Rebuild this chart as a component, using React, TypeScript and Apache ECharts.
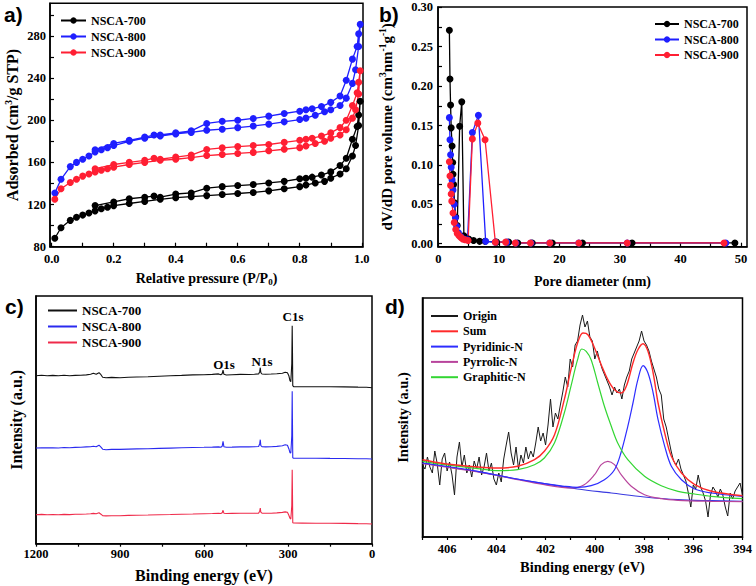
import React, { useEffect, useRef } from 'react';
import * as echarts from 'echarts';

// ---------- Panel a: N2 adsorption/desorption isotherms ----------
const pAds = [0.01, 0.03, 0.06, 0.08, 0.10, 0.12, 0.14, 0.16, 0.18, 0.20, 0.25, 0.30, 0.35, 0.40, 0.45, 0.50, 0.55, 0.60, 0.65, 0.70, 0.75, 0.80, 0.82, 0.85, 0.88, 0.90, 0.93, 0.95, 0.97, 0.98, 0.99, 0.995];
const pDes = [0.99, 0.985, 0.97, 0.95, 0.93, 0.90, 0.87, 0.84, 0.82, 0.80, 0.75, 0.70, 0.65, 0.60, 0.55, 0.50, 0.45, 0.40, 0.35, 0.33, 0.30, 0.25, 0.20, 0.14];
const a700Ads = [88, 98, 105, 108, 110, 112, 114, 116, 117.5, 119, 121, 123, 125, 126.5, 127.5, 128.5, 129.5, 130.5, 131.5, 133, 135, 137, 138.5, 140.5, 142, 145, 149, 154, 166, 176, 195, 218];
const a700Des = [205, 194, 182, 164, 157, 151, 148, 146, 145, 144.5, 142, 140.5, 139, 138, 137, 135.5, 131, 130, 127, 128, 127, 125.5, 122.5, 119];
const a800Ads = [131, 144, 156, 160, 163, 166, 170, 172, 174, 176, 180, 183, 185, 187, 188.5, 190.5, 191.5, 193, 194.5, 196.3, 198.5, 200.7, 202, 204.8, 208, 210, 214, 221, 235, 248, 270, 291];
const a800Des = [282, 270, 258, 238, 223, 217, 213, 211, 210, 208.6, 206.4, 203.9, 201.7, 200, 199, 197, 190, 188, 186, 186, 184, 181, 178, 172];
const a900Ads = [125, 135, 141, 144, 147, 149, 151, 152.5, 154, 155.5, 158, 160, 162, 163, 164.5, 166.5, 167.5, 168.5, 169.5, 171, 172.5, 174, 175.5, 178, 180, 183, 186, 191, 202, 210, 225, 247];
const a900Des = [236, 226, 214, 200, 193, 188, 185, 183, 182, 181, 179, 177, 176, 175, 173.8, 172.3, 167, 165, 163, 164, 162, 160, 158, 154];
const aXTicks = [0, 0.2, 0.4, 0.6, 0.8, 1.0];
const aXMinor = [0, 0.1, 0.2, 0.3, 0.4, 0.5, 0.6, 0.7, 0.8, 0.9, 1.0];
const aYTicks = [80, 120, 160, 200, 240, 280];
const aYMinor = [80, 100, 120, 140, 160, 180, 200, 220, 240, 260, 280, 300];

// ---------- Panel b: pore size distribution ----------
const b700D = [1.8, 1.9, 2.0, 2.1, 2.25, 2.35, 2.4, 2.5, 2.65, 2.85, 3.1, 3.5, 3.85, 4.2, 5.0, 5.8, 6.8, 7.7, 9.6, 11.6, 13.1, 15.5, 18.8, 23.8, 32.0, 49.0];
const b700V = [0.271, 0.209, 0.176, 0.147, 0.124, 0.103, 0.088, 0.075, 0.052, 0.034, 0.023, 0.149, 0.180, 0.010, 0.006, 0.004, 0.003, 0.003, 0.002, 0.002, 0.001, 0.001, 0.001, 0.001, 0.001, 0.001];
const b800D = [1.8, 1.9, 2.0, 2.1, 2.25, 2.4, 2.6, 2.8, 3.0, 3.3, 3.7, 4.2, 4.8, 5.6, 6.6, 7.8, 9.4, 11.3, 12.8, 15.3, 18.4, 23.2, 31.2, 47.5];
const b800V = [0.160, 0.132, 0.113, 0.097, 0.081, 0.068, 0.050, 0.033, 0.022, 0.014, 0.009, 0.006, 0.005, 0.141, 0.163, 0.003, 0.002, 0.002, 0.001, 0.001, 0.001, 0.001, 0.001, 0.001];
const b900D = [1.8, 1.9, 2.0, 2.1, 2.2, 2.4, 2.6, 2.85, 3.1, 3.4, 3.7, 4.0, 4.4, 4.9, 5.6, 6.5, 7.7, 9.4, 11.1, 12.7, 15.2, 18.4, 23.2, 31.2, 47.2];
const b900V = [0.104, 0.086, 0.074, 0.063, 0.054, 0.039, 0.027, 0.018, 0.013, 0.010, 0.008, 0.006, 0.005, 0.004, 0.133, 0.153, 0.132, 0.002, 0.002, 0.001, 0.001, 0.001, 0.001, 0.001, 0.001];
const bXTicks = [0, 10, 20, 30, 40, 50];
const bXMinor = [0, 5, 10, 15, 20, 25, 30, 35, 40, 45, 50];
const bYTicks = [0, 0.05, 0.10, 0.15, 0.20, 0.25, 0.30];
const bYMinor = [0, 0.025, 0.05, 0.075, 0.10, 0.125, 0.15, 0.175, 0.20, 0.225, 0.25, 0.275, 0.30];

// ---------- Panel c: XPS survey ----------
const cEnergy = [1200, 1180, 1160, 1140, 1120, 1100, 1080, 1060, 1040, 1020, 1005, 995, 985, 975, 968, 962, 950, 930, 900, 870, 840, 800, 760, 720, 680, 640, 600, 570, 548, 540, 535, 532, 529, 520, 500, 470, 440, 420, 405, 401, 399, 397, 393, 380, 360, 340, 320, 310, 302, 297, 293, 290, 288, 286.5, 285, 284, 283, 280, 250, 200, 150, 100, 50, 20, 0];
const c700 = [168, 168.5, 168, 168.3, 168, 168.5, 168, 168.3, 168.5, 168.8, 169.5, 170.5, 169.5, 171, 169, 166.5, 166, 166.3, 166, 166.5, 166.7, 167, 167.5, 168, 168.3, 168.8, 169, 169.3, 169.8, 169, 170, 173.5, 169.5, 168.7, 169, 169.3, 169.2, 169.5, 169.8, 172, 176, 171, 169.7, 169.5, 169.7, 170, 170.5, 171.5, 171, 168, 163, 162, 172, 180, 218, 192, 158, 157, 157, 157, 157, 156.8, 156.6, 156.5, 156];
const c800 = [95.7, 96, 95.8, 96, 95.7, 96.2, 96, 96.3, 96.5, 96.8, 97, 97.5, 97, 98.5, 96.5, 94.5, 94, 94.3, 94.3, 94.6, 94.8, 95, 95.3, 95.6, 95.9, 96.2, 96.4, 96.6, 96.8, 96.5, 97.5, 102.4, 97, 96.5, 96.6, 96.8, 96.8, 97, 97.2, 100, 104, 98, 97, 96.8, 97, 97.3, 98, 99, 98.5, 95, 91, 90.7, 100, 108, 152.4, 120, 86, 85.5, 85.5, 85.5, 85.3, 85.2, 85, 85, 84.7];
const c900 = [29, 29.3, 29, 29.2, 29, 29.3, 29.1, 29.4, 29.5, 29.7, 30, 30.3, 30, 31, 29.5, 28, 27.8, 28, 28, 28.3, 28.5, 28.7, 29, 29.2, 29.5, 29.7, 30, 30.2, 30.4, 30.2, 31, 33.4, 30.5, 30.2, 30.3, 30.4, 30.4, 30.5, 30.6, 32.5, 35.7, 31.5, 30.5, 30.4, 30.5, 30.8, 31.3, 31.8, 31.5, 28.5, 25.5, 24.7, 32, 38, 74, 50, 21, 20.7, 20.6, 20.5, 20.4, 20.3, 20.1, 20, 19.7];
const cXTicks = [0, 300, 600, 900, 1200];
const cXMinor = [0, 150, 300, 450, 600, 750, 900, 1050, 1200];
const cPeakLabels = ['O1s', 'N1s', 'C1s'];

// ---------- Panel d: N1s high resolution ----------
const dEnergy = [
  407.0, 406.9, 406.8, 406.7, 406.6, 406.5, 406.4, 406.3, 406.2, 406.1,
  406.0, 405.9, 405.8, 405.7, 405.6, 405.5, 405.4, 405.3, 405.2, 405.1,
  405.0, 404.9, 404.8, 404.7, 404.6, 404.5, 404.4, 404.3, 404.2, 404.1,
  404.0, 403.9, 403.8, 403.7, 403.6, 403.5, 403.4, 403.3, 403.2, 403.1,
  403.0, 402.9, 402.8, 402.7, 402.6, 402.5, 402.4, 402.3, 402.2, 402.1,
  402.0, 401.9, 401.8, 401.7, 401.6, 401.5, 401.4, 401.3, 401.2, 401.1,
  401.0, 400.9, 400.8, 400.7, 400.6, 400.5, 400.4, 400.3, 400.2, 400.1,
  400.0, 399.9, 399.8, 399.7, 399.6, 399.5, 399.4, 399.3, 399.2, 399.1,
  399.0, 398.9, 398.8, 398.7, 398.6, 398.5, 398.4, 398.3, 398.2, 398.1,
  398.0, 397.9, 397.8, 397.7, 397.6, 397.5, 397.4, 397.3, 397.2, 397.1,
  397.0, 396.9, 396.8, 396.7, 396.6, 396.5, 396.4, 396.3, 396.2, 396.1,
  396.0, 395.9, 395.8, 395.7, 395.6, 395.5, 395.4, 395.3, 395.2, 395.1,
  395.0, 394.9, 394.8, 394.7, 394.6, 394.5, 394.4, 394.3, 394.2, 394.1,
  394.0,
];
const dOrigin = [
  72, 68, 80, 70, 64, 86, 73, 52, 78, 84,
  66, 75, 62, 42, 80, 95, 70, 82, 64, 72,
  60, 76, 68, 80, 62, 70, 84, 66, 74, 58,
  52, 64, 55, 78, 92, 105, 84, 72, 90, 68,
  82, 74, 90, 78, 86, 80, 94, 110, 96, 104,
  92, 112, 138, 110, 124, 118, 132, 145, 160, 150,
  178, 170, 192, 196, 212, 222, 210, 216, 200, 196,
  178, 186, 176, 168, 162, 156, 150, 142, 150, 144,
  148, 138, 152, 160, 166, 178, 184, 190, 196, 206,
  196, 192, 186, 176, 168, 160, 148, 142, 118, 110,
  98, 86, 76, 72, 78, 68, 62, 56, 44, 30,
  52, 48, 62, 50, 44, 36, 20, 42, 50, 46,
  40, 48, 42, 30, 21, 44, 38, 46, 50, 54,
  42,
];
const dSumE = [407.0, 406.1, 404.75, 403.94, 403.13, 402.45, 402.05, 401.64, 401.24, 400.97, 400.7, 400.48, 400.28, 400.01, 399.74, 399.47, 399.2, 398.93, 398.72, 398.45, 398.25, 398.04, 397.84, 397.63, 397.43, 397.16, 396.89, 396.48, 395.94, 395.26, 394.0];
const dSumV = [77.3, 73.3, 70, 69, 70.7, 77.3, 85.7, 102, 137.3, 167.3, 194, 204, 202.3, 189, 172.3, 157.3, 147.3, 144, 150.7, 174, 187.3, 193.3, 185.7, 164, 134, 104, 80.7, 64, 52.3, 45.7, 41.3];
const dGraphE = [407.0, 406.1, 404.75, 403.94, 403.13, 402.45, 402.05, 401.64, 401.24, 400.97, 400.7, 400.53, 400.35, 400.15, 399.88, 399.61, 399.33, 399.07, 398.66, 397.98, 397.3, 396.62, 395.95, 395.27, 394.0];
const dGraphV = [75.7, 72.3, 68.3, 66.3, 67.3, 72.3, 79, 94, 124, 150.7, 177.3, 188, 185.7, 177.3, 154, 130.7, 110.7, 94, 77.3, 60.7, 51.3, 45.7, 43, 40.7, 38.3];
const dPyridE = [407.0, 404.75, 403.4, 402.05, 401.24, 400.7, 400.15, 399.61, 399.2, 398.94, 398.66, 398.45, 398.25, 398.04, 397.84, 397.63, 397.43, 397.16, 396.89, 396.48, 395.94, 395.26, 394.0];
const dPyridV = [74, 65.7, 59, 53.3, 50.7, 49.7, 51.3, 57.3, 67.3, 84, 110.7, 134, 157.3, 171.3, 164, 144, 117.3, 90.7, 70.7, 57.3, 48, 44, 40.7];
const dPyrrE = [407.0, 404.75, 403.4, 402.05, 400.97, 400.43, 400.01, 399.74, 399.47, 399.2, 398.93, 398.52, 397.98, 397.3, 396.62, 395.26, 394.0];
const dPyrrV = [73.3, 65, 58.7, 52.3, 49, 52.3, 62.3, 72.3, 75.7, 72.3, 62.3, 50.7, 42.3, 38.3, 36.7, 35.7, 35.3];
const dBgE = [407.0, 404.75, 403.4, 402.05, 400.7, 399.33, 397.98, 396.62, 395.26, 394.0];
const dBgV = [74, 65.3, 59, 53.3, 48, 44, 40, 37.3, 36.3, 35.7];
const dXTicks = [394, 396, 398, 400, 402, 404, 406];
const dXMinor = [394, 395, 396, 397, 398, 399, 400, 401, 402, 403, 404, 405, 406, 407];

const SERIF = "'Liberation Serif', 'Times New Roman', serif";
const SANS = "'Liberation Sans', Arial, sans-serif";

const zip = (xs: number[], ys: number[]) => xs.map((x, i) => [x, ys[i]]);

const labelStyle = { color: '#000', fontFamily: SERIF, fontWeight: 'bold' as const, fontSize: 12.5 };
const nameStyle = (size: number) => ({
  color: '#000',
  fontFamily: SERIF,
  fontWeight: 'bold' as const,
  fontSize: size,
  rich: {
    sub: { color: '#000', fontFamily: SERIF, fontWeight: 'bold' as const, fontSize: 9, padding: [7, 0, 0, 0] },
    sup: { color: '#000', fontFamily: SERIF, fontWeight: 'bold' as const, fontSize: 9.5, padding: [0, 0, 7, 0] },
  },
});
const axisLine = { show: true, onZero: false, lineStyle: { color: '#000', width: 1.5 } };

const BLACK = '#000000';
const BLUE = '#1f1fff';
const RED = '#ff1f33';

export default function App() {
  const ref = useRef<HTMLDivElement>(null);
  useEffect(() => {
    if (!ref.current) return;
    const chart = echarts.init(ref.current, undefined, { renderer: 'svg' });

    const legendText = { ...labelStyle, fontSize: 12, lineHeight: 12 };
    const strip = (n: string) => n.slice(2);
    const plain = (v: number) => String(v);

    const symbolSeries = (name: string, xi: number, data: number[][], color: string) => ({
      name, type: 'line', xAxisIndex: xi, yAxisIndex: xi, data,
      symbol: 'circle', symbolSize: 7, showSymbol: true,
      itemStyle: { color }, lineStyle: { color, width: 1.3 },
    });
    const lineSeries = (name: string, xi: number, data: number[][], color: string, width = 1.2, smooth: any = false) => ({
      name, type: 'line', xAxisIndex: xi, yAxisIndex: xi, data,
      symbol: 'none', showSymbol: false, smooth,
      itemStyle: { color }, lineStyle: { color, width },
    });

    const option: any = {
      animation: false,
      backgroundColor: '#fff',
      grid: [
        { left: 50, top: 3.3, width: 313, height: 243.4, show: true, borderColor: '#000', borderWidth: 1.5 },
        { left: 438, top: 7, width: 309, height: 239.7, show: true, borderColor: '#000', borderWidth: 1.5 },
        { left: 36, top: 296, width: 336, height: 247.7, show: true, borderColor: '#000', borderWidth: 1.5 },
        { left: 422.5, top: 298, width: 320, height: 239, show: true, borderColor: '#000', borderWidth: 1.5 },
      ],
      xAxis: [
        {
          gridIndex: 0, type: 'value', min: -0.0055, max: 1.004,
          name: 'Relative pressure (P/P{sub|0})', nameLocation: 'middle', nameGap: 24, nameTextStyle: nameStyle(14),
          axisLine, splitLine: { show: false },
          axisTick: { show: true, inside: true, length: 4, customValues: aXMinor, lineStyle: { color: '#000', width: 1.2 } },
          axisLabel: { ...labelStyle, margin: 6, customValues: aXTicks, formatter: (v: number) => v.toFixed(1) },
        },
        {
          gridIndex: 1, type: 'value', min: -0.08, max: 51,
          name: 'Pore diameter (nm)', nameLocation: 'middle', nameGap: 28, nameTextStyle: nameStyle(14),
          axisLine, splitLine: { show: false },
          axisTick: { show: true, inside: true, length: 4, customValues: bXMinor, lineStyle: { color: '#000', width: 1.2 } },
          axisLabel: { ...labelStyle, margin: 6, customValues: bXTicks, formatter: plain },
        },
        {
          gridIndex: 2, type: 'value', min: 0, max: 1200, inverse: true,
          name: 'Binding energy (eV)', nameLocation: 'middle', nameGap: 24, nameTextStyle: nameStyle(16),
          axisLine, splitLine: { show: false },
          axisTick: { show: true, inside: false, length: 3, customValues: cXMinor, lineStyle: { color: '#000', width: 1.2 } },
          axisLabel: { ...labelStyle, margin: 4, customValues: cXTicks, formatter: plain },
        },
        {
          gridIndex: 3, type: 'value', min: 394, max: 407, inverse: true,
          name: 'Binding energy (eV)', nameLocation: 'middle', nameGap: 22, nameTextStyle: nameStyle(14.5),
          axisLine, splitLine: { show: false },
          axisTick: { show: true, inside: false, length: 3, customValues: dXMinor, lineStyle: { color: '#000', width: 1.2 } },
          axisLabel: { ...labelStyle, margin: 5, customValues: dXTicks, formatter: plain },
        },
      ],
      yAxis: [
        {
          gridIndex: 0, type: 'value', min: 80, max: 311,
          name: 'Adsorbed (cm{sup|3}/g STP)', nameLocation: 'middle', nameGap: 29, nameTextStyle: nameStyle(16),
          axisLine, splitLine: { show: false },
          axisTick: { show: true, inside: true, length: 4, customValues: aYMinor, lineStyle: { color: '#000', width: 1.2 } },
          axisLabel: { ...labelStyle, margin: 4, customValues: aYTicks, formatter: plain },
        },
        {
          gridIndex: 1, type: 'value', min: -0.0038, max: 0.3004,
          name: 'dV/dD pore volume (cm{sup|3}nm{sup|-1}g{sup|-1})', nameLocation: 'middle', nameGap: 43, nameTextStyle: nameStyle(15),
          axisLine, splitLine: { show: false },
          axisTick: { show: true, inside: true, length: 4, customValues: bYMinor, lineStyle: { color: '#000', width: 1.2 } },
          axisLabel: { ...labelStyle, margin: 5, customValues: bYTicks, formatter: (v: number) => v.toFixed(2) },
        },
        {
          gridIndex: 2, type: 'value', min: 0, max: 247.7,
          name: 'Intensity (a.u.)', nameLocation: 'middle', nameGap: 12, nameTextStyle: nameStyle(16),
          axisLine, splitLine: { show: false }, axisTick: { show: false }, axisLabel: { show: false },
        },
        {
          gridIndex: 3, type: 'value', min: 0, max: 239,
          name: 'Intensity (a.u.)', nameLocation: 'middle', nameGap: 12, nameTextStyle: nameStyle(14.5),
          axisLine, splitLine: { show: false }, axisTick: { show: false }, axisLabel: { show: false },
        },
      ],
      legend: [
        {
          left: 60, top: 14.5, orient: 'vertical', padding: 0, itemWidth: 25, itemHeight: 8, itemGap: 4,
          selectedMode: false, textStyle: legendText, formatter: strip,
          data: ['a:NSCA-700', 'a:NSCA-800', 'a:NSCA-900'],
        },
        {
          left: 654, top: 18, orient: 'vertical', padding: 0, itemWidth: 24, itemHeight: 8, itemGap: 3.5,
          selectedMode: false, textStyle: legendText, formatter: strip,
          data: ['b:NSCA-700', 'b:NSCA-800', 'b:NSCA-900'],
        },
        {
          left: 48, top: 304, orient: 'vertical', padding: 0, itemWidth: 29, itemHeight: 2, itemGap: 3, icon: 'rect',
          selectedMode: false, textStyle: { ...legendText, fontSize: 13, lineHeight: 13 }, formatter: strip,
          data: ['c:NSCA-700', 'c:NSCA-800', 'c:NSCA-900'],
        },
        {
          left: 431, top: 310, orient: 'vertical', padding: 0, itemWidth: 27, itemHeight: 2, itemGap: 3.3, icon: 'rect',
          selectedMode: false, textStyle: legendText, formatter: strip,
          data: ['d:Origin', 'd:Sum', 'd:Pyridinic-N', 'd:Pyrrolic-N', 'd:Graphitic-N'],
        },
      ],
      graphic: [
        { type: 'text', left: 4, top: 4, style: { text: 'a)', font: `bold 21px ${SANS}`, fill: '#000' } },
        { type: 'text', left: 379, top: 4, style: { text: 'b)', font: `bold 21px ${SANS}`, fill: '#000' } },
        { type: 'text', left: 5, top: 296, style: { text: 'c)', font: `bold 21px ${SANS}`, fill: '#000' } },
        { type: 'text', left: 385, top: 296, style: { text: 'd)', font: `bold 21px ${SANS}`, fill: '#000' } },
        { type: 'text', x: 224, y: 364, style: { text: cPeakLabels[0], font: `bold 13px ${SERIF}`, fill: '#000', align: 'center', verticalAlign: 'middle' } },
        { type: 'text', x: 262, y: 361, style: { text: cPeakLabels[1], font: `bold 13px ${SERIF}`, fill: '#000', align: 'center', verticalAlign: 'middle' } },
        { type: 'text', x: 293, y: 316, style: { text: cPeakLabels[2], font: `bold 13px ${SERIF}`, fill: '#000', align: 'center', verticalAlign: 'middle' } },
      ],
      series: [
        symbolSeries('a:NSCA-700', 0, zip(pAds, a700Ads).concat(zip(pDes, a700Des)), BLACK),
        symbolSeries('a:NSCA-800', 0, zip(pAds, a800Ads).concat(zip(pDes, a800Des)), BLUE),
        symbolSeries('a:NSCA-900', 0, zip(pAds, a900Ads).concat(zip(pDes, a900Des)), RED),
        symbolSeries('b:NSCA-700', 1, zip(b700D, b700V), BLACK),
        symbolSeries('b:NSCA-800', 1, zip(b800D, b800V), BLUE),
        symbolSeries('b:NSCA-900', 1, zip(b900D, b900V), RED),
        lineSeries('c:NSCA-700', 2, zip(cEnergy, c700), '#111111', 1.1),
        lineSeries('c:NSCA-800', 2, zip(cEnergy, c800), '#2a2aef', 1.1),
        lineSeries('c:NSCA-900', 2, zip(cEnergy, c900), '#ef2a4a', 1.1),
        lineSeries('d:Origin', 3, zip(dEnergy, dOrigin), '#1a1a1a', 1),
        lineSeries('d:Background', 3, zip(dBgE, dBgV), '#3a3ae0', 1.2, 0.35),
        lineSeries('d:Pyrrolic-N', 3, zip(dPyrrE, dPyrrV), '#b8449c', 1.2, 0.35),
        lineSeries('d:Pyridinic-N', 3, zip(dPyridE, dPyridV), '#2d2dff', 1.2, 0.35),
        lineSeries('d:Graphitic-N', 3, zip(dGraphE, dGraphV), '#33d633', 1.2, 0.35),
        lineSeries('d:Sum', 3, zip(dSumE, dSumV), '#ff2a2a', 1.4, 0.35),
      ],
    };
    chart.setOption(option);
    return () => chart.dispose();
  }, []);
  return <div ref={ref} style={{ width: 756, height: 586, position: 'absolute', left: 0, top: 0 }} />;
}
